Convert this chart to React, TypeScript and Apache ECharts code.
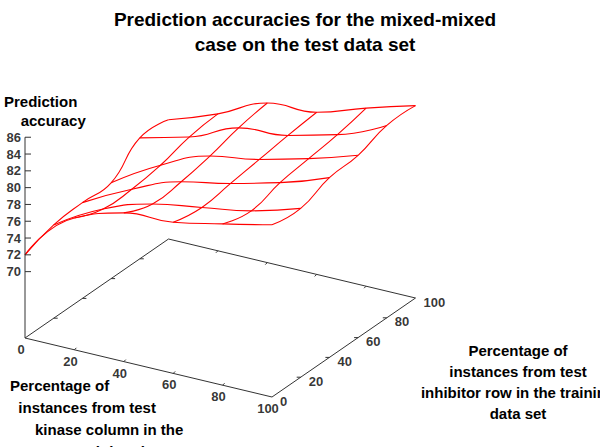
import React, { useEffect, useRef } from "react";
import * as echarts from "echarts";

const title = "Prediction accuracies for the mixed-mixed\ncase on the test data set";
const xTicks = [0, 20, 40, 60, 80, 100]; // kinase column %
const yTicks = [0, 20, 40, 60, 80, 100]; // inhibitor row %
const zTicks = [70, 72, 74, 76, 78, 80, 82, 84, 86];
// accuracy[yIndex][xIndex]
const accuracy = [
  [72.0, 77.8, 79.8, 80.1, 81.3, 82.6],
  [73.2, 76.5, 78.5, 79.5, 80.5, 82.2],
  [73.5, 76.5, 78.8, 80.0, 81.5, 83.5],
  [73.5, 77.0, 79.5, 80.5, 82.0, 83.8],
  [76.5, 78.0, 80.5, 81.0, 82.5, 85.0],
  [76.3, 78.4, 81.1, 81.4, 83.3, 85.0],
];

const Z0 = 62.1;
const P = (x: number, y: number, z: number): [number, number] => [
  25 + 2.47 * x + 1.435 * y,
  338 + 0.59 * x - 0.99 * y - (z - Z0) * 8.4,
];

export default function App() {
  const ref = useRef<HTMLDivElement>(null);
  useEffect(() => {
    const chart = echarts.init(ref.current!, null, { renderer: "svg" });
    const font = "Liberation Sans";
    const series: any[] = [];
    const red = { color: "#ff0000", width: 1.1 };
    accuracy.forEach((row, yi) => {
      series.push({ type: "line", smooth: true, symbol: "none", lineStyle: red,
        data: row.map((z, xi) => P(xTicks[xi], yTicks[yi], z)) });
    });
    xTicks.forEach((xv, xi) => {
      series.push({ type: "line", smooth: true, symbol: "none", lineStyle: red,
        data: accuracy.map((row, yi) => P(xv, yTicks[yi], row[xi])) });
    });
    const grey = { color: "#333", width: 1 };
    const seg = (a: [number, number], b: [number, number]) =>
      series.push({ type: "line", symbol: "none", lineStyle: grey, data: [a, b] });
    seg(P(0, 0, Z0), P(100, 0, Z0));
    seg(P(100, 0, Z0), P(100, 100, Z0));
    seg(P(100, 100, Z0), P(0, 100, Z0));
    seg(P(0, 100, Z0), P(0, 0, Z0));
    seg(P(0, 0, Z0), P(0, 0, 86));
    zTicks.forEach((z) => { const p = P(0, 0, z); seg(p, [p[0] + 6, p[1]]); });
    xTicks.slice(1, 5).forEach((x) => {
      const a = P(x, 0, Z0); seg(a, [a[0] + 2, a[1] - 2]);
      const b = P(x, 100, Z0); seg(b, [b[0] - 2, b[1] + 2]);
    });
    yTicks.slice(1, 5).forEach((y) => {
      const a = P(0, y, Z0); seg(a, [a[0] + 4, a[1]]);
      const b = P(100, y, Z0); seg(b, [b[0] - 4, b[1]]);
    });
    const lab = { fontFamily: font, fontWeight: "bold", fontSize: 13, color: "#000" };
    series.push({ type: "scatter", symbolSize: 0, data: zTicks.map((z) => P(0, 0, z)),
      label: { show: true, position: "left", distance: 4, formatter: (p: any) => String(zTicks[p.dataIndex]), ...lab } });
    series.push({ type: "scatter", symbolSize: 0, data: xTicks.map((x) => P(x, 0, Z0)),
      label: { show: true, position: "bottom", distance: 5, offset: [-4, 0], formatter: (p: any) => String(xTicks[p.dataIndex]), ...lab } });
    series.push({ type: "scatter", symbolSize: 0, data: yTicks.map((y) => P(100, y, Z0)),
      label: { show: true, position: "right", distance: 8, offset: [0, 4], formatter: (p: any) => String(yTicks[p.dataIndex]), ...lab } });
    chart.setOption({
      animation: false,
      grid: { left: 0, right: 0, top: 0, bottom: 0 },
      xAxis: { type: "value", min: 0, max: 600, show: false },
      yAxis: { type: "value", min: 0, max: 447, inverse: true, show: false },
      title: { text: title, left: 300, top: 2, textAlign: "center",
        textStyle: { fontFamily: font, fontWeight: "bold", fontSize: 19, lineHeight: 25, color: "#000" } },
      graphic: [
        { type: "text", left: 4, top: 92, style: { text: "Prediction\n    accuracy", font: `bold 15px "${font}"`, lineHeight: 19, fill: "#000" } },
        { type: "text", left: 10, top: 374, style: { text: "Percentage of\n  instances from test\n      kinase column in the\n                training data set", font: `bold 15px "${font}"`, lineHeight: 22, fill: "#000" } },
        { type: "text", x: 518, y: 340, style: { text: "Percentage of\ninstances from test\ninhibitor row in the training\ndata set", align: "center", font: `bold 15px "${font}"`, lineHeight: 21, fill: "#000" } },
      ],
      series,
    });
    return () => chart.dispose();
  }, []);
  return <div ref={ref} style={{ position: "fixed", left: 0, top: 0, width: 600, height: 447, background: "#fff" }} />;
}
